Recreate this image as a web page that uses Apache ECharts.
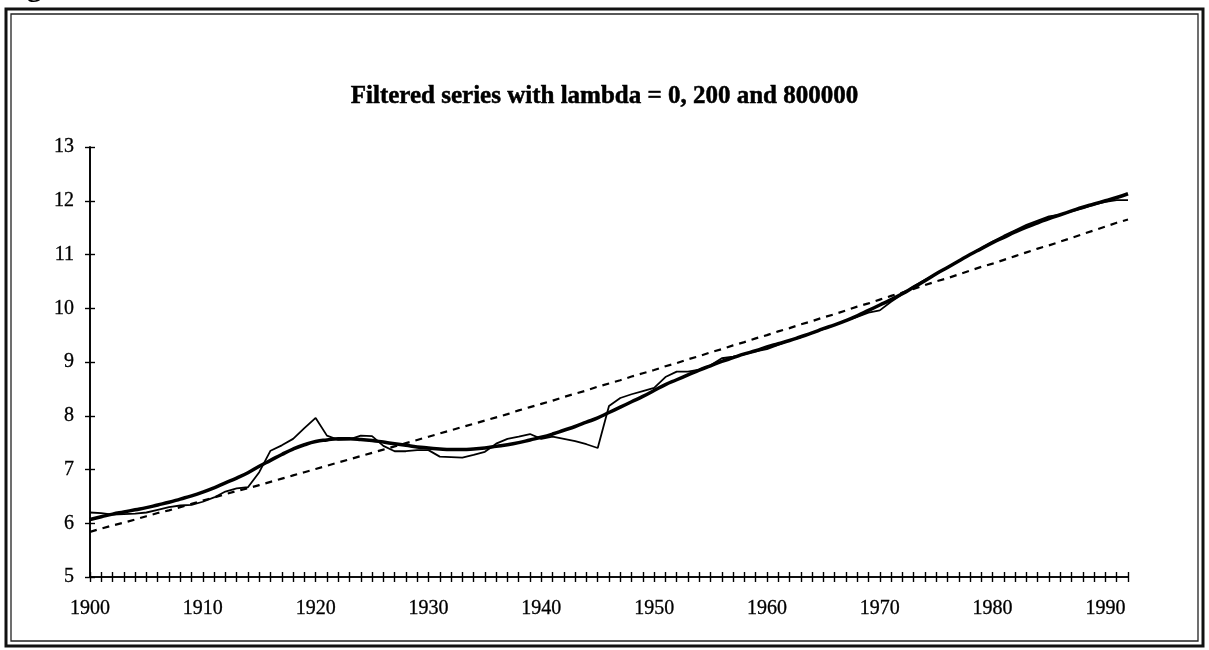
<!DOCTYPE html>
<html>
<head>
<meta charset="utf-8">
<script src="https://cdn.jsdelivr.net/npm/echarts@6/dist/echarts.min.js"></script>
<style>
html,body{margin:0;padding:0;background:#fff;}
#c{width:1209px;height:650px;}
</style>
</head>
<body>
<div id="c"></div>
<script>
// ---- data ----
var years_list = [1900,1901,1902,1903,1904,1905,1906,1907,1908,1909,
1910,1911,1912,1913,1914,1915,1916,1917,1918,1919,
1920,1921,1922,1923,1924,1925,1926,1927,1928,1929,
1930,1931,1932,1933,1934,1935,1936,1937,1938,1939,
1940,1941,1942,1943,1944,1945,1946,1947,1948,1949,
1950,1951,1952,1953,1954,1955,1956,1957,1958,1959,
1960,1961,1962,1963,1964,1965,1966,1967,1968,1969,
1970,1971,1972,1973,1974,1975,1976,1977,1978,1979,
1980,1981,1982,1983,1984,1985,1986,1987,1988,1989,
1990,1991,1992];
var years = years_list.map(String);

// lambda = 0 (raw series)
var lambda0 = [6.20,6.19,6.16,6.17,6.18,6.20,6.25,6.30,6.33,6.34,
6.40,6.48,6.59,6.65,6.67,6.95,7.35,7.45,7.57,7.77,
7.96,7.63,7.55,7.56,7.63,7.62,7.44,7.34,7.34,7.36,
7.36,7.24,7.23,7.22,7.27,7.33,7.48,7.57,7.61,7.66,
7.57,7.61,7.57,7.53,7.47,7.40,8.18,8.33,8.40,8.46,
8.52,8.72,8.82,8.82,8.86,8.94,9.07,9.10,9.14,9.20,
9.24,9.32,9.40,9.46,9.54,9.61,9.69,9.77,9.84,9.92,
9.96,10.12,10.26,10.41,10.53,10.64,10.76,10.88,11.00,11.12,
11.24,11.35,11.45,11.55,11.63,11.71,11.74,11.80,11.86,11.93,
11.98,12.01,12.01];

// lambda = 200 (smooth trend)
var lambda200 = [6.07,6.12,6.17,6.21,6.25,6.29,6.34,6.39,6.45,6.51,
6.58,6.66,6.75,6.84,6.94,7.06,7.17,7.28,7.38,7.46,
7.52,7.55,7.57,7.57,7.56,7.54,7.51,7.48,7.45,7.42,
7.40,7.38,7.37,7.37,7.38,7.40,7.43,7.46,7.50,7.55,
7.60,7.66,7.73,7.80,7.88,7.96,8.06,8.16,8.26,8.36,
8.47,8.58,8.67,8.76,8.85,8.93,9.01,9.08,9.15,9.21,
9.28,9.34,9.40,9.47,9.54,9.62,9.69,9.77,9.86,9.96,
10.06,10.16,10.27,10.39,10.51,10.64,10.76,10.88,11.00,11.11,
11.22,11.32,11.42,11.51,11.59,11.67,11.74,11.81,11.88,11.94,
12.00,12.06,12.13];

// lambda = 800000 (near-linear trend)
var lambda800000 = [5.84,5.90,5.96,6.01,6.07,6.13,6.19,6.24,6.30,6.36,
6.42,6.48,6.54,6.60,6.65,6.71,6.77,6.83,6.89,6.95,
7.01,7.07,7.13,7.19,7.25,7.31,7.37,7.43,7.49,7.55,
7.61,7.67,7.73,7.79,7.85,7.91,7.97,8.03,8.10,8.16,
8.22,8.28,8.35,8.41,8.47,8.54,8.60,8.66,8.73,8.79,
8.85,8.92,8.98,9.05,9.11,9.18,9.24,9.31,9.37,9.44,
9.50,9.57,9.63,9.70,9.76,9.83,9.89,9.96,10.03,10.09,
10.16,10.23,10.29,10.36,10.43,10.50,10.56,10.63,10.70,10.77,
10.83,10.90,10.97,11.04,11.11,11.17,11.24,11.31,11.38,11.45,
11.52,11.59,11.65];

var yTicks = [5,6,7,8,9,10,11,12,13];
var titleText = 'Filtered series with lambda = 0, 200 and 800000';
var figureText = 'Figure 2.';

// ---- chart ----
var chart = echarts.init(document.getElementById('c'), null, {renderer:'canvas'});
var serif = '"Liberation Serif","Times New Roman",serif';
var axisLine = {show:true, lineStyle:{color:'#000', width:1.6}};
var grid = {left:90, right:81, top:147, bottom:73, containLabel:false};
var labelStyle = {color:'#000', fontFamily:serif, fontSize:20, textBorderColor:'#000', textBorderWidth:0.3};

function xAx(inside, labels){
  return {
    type:'category', data:years, boundaryGap:false, position:'bottom',
    axisLine:axisLine,
    axisTick:{show:true, inside:inside, length:5, interval:0, lineStyle:{color:'#000', width:1.4}},
    axisLabel:Object.assign({show:labels, interval:0, margin:22,
      formatter:function(v){ return (+v % 10 === 0) ? v : ''; }}, labelStyle),
    splitLine:{show:false}
  };
}
function yAx(inside, labels){
  return {
    type:'value', min:yTicks[0], max:yTicks[yTicks.length-1], interval:1, position:'left',
    axisLine:axisLine,
    axisTick:{show:true, inside:inside, length:5, lineStyle:{color:'#000', width:1.4}},
    axisLabel:Object.assign({show:labels, margin:16}, labelStyle),
    splitLine:{show:false}
  };
}

chart.setOption({
  animation:false,
  backgroundColor:'#fff',
  title:{text:titleText, left:'center', top:79,
    textStyle:{fontFamily:serif, fontSize:25, fontWeight:'bold', color:'#000',
      textBorderColor:'#000', textBorderWidth:0.5}},
  grid:grid,
  xAxis:[xAx(false,true), xAx(true,false)],
  yAxis:[yAx(false,true), yAx(true,false)],
  graphic:[
    {type:'rect', shape:{x:6, y:9, width:1197, height:637}, style:{fill:'none', stroke:'#111', lineWidth:3}, silent:true},
    {type:'rect', shape:{x:11, y:14, width:1187, height:627}, style:{fill:'none', stroke:'#222', lineWidth:1.3}, silent:true},
    {type:'text', left:0, top:-27, style:{text:figureText, font:'bold 30px '+serif, fill:'#000'}, silent:true}
  ],
  series:[
    {name:'lambda = 0', type:'line', data:lambda0, xAxisIndex:0, yAxisIndex:0, showSymbol:false,
      lineStyle:{color:'#000', width:1.8}},
    {name:'lambda = 200', type:'line', data:lambda200, xAxisIndex:0, yAxisIndex:0, showSymbol:false, smooth:true,
      lineStyle:{color:'#000', width:3.5}},
    {name:'lambda = 800000', type:'line', data:lambda800000, xAxisIndex:0, yAxisIndex:0, showSymbol:false,
      lineStyle:{color:'#000', width:2.2, type:[7,6]}}
  ]
});
</script>
</body>
</html>
